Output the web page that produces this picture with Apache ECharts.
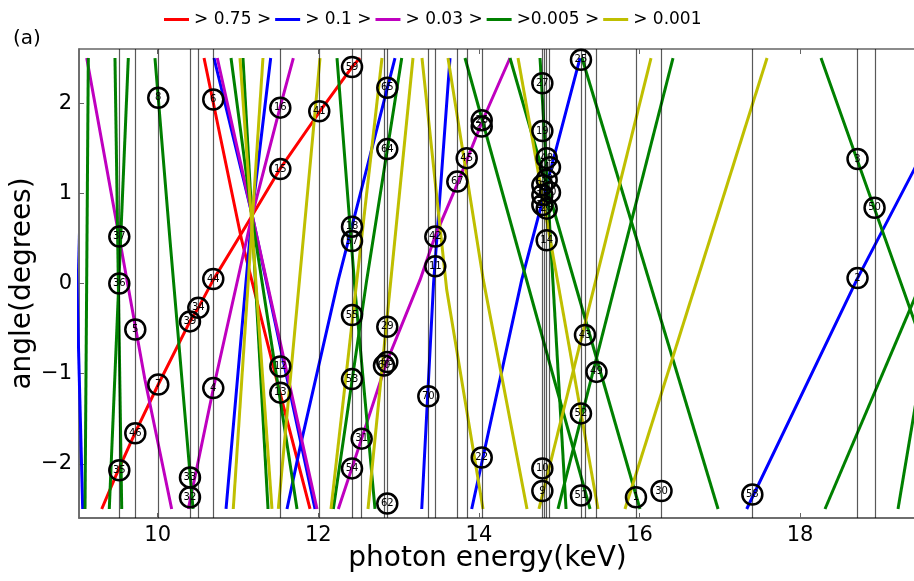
<!DOCTYPE html>
<html>
<head>
<meta charset="utf-8">
<script src="https://cdn.jsdelivr.net/npm/echarts@6/dist/echarts.min.js"></script>
<style>html,body{margin:0;padding:0;background:#fff;}#c{width:914px;height:581px;}</style>
</head>
<body>
<div id="c"></div>
<script>
// ---- data (keV, degrees) ----
const xTicks = [10, 12, 14, 16, 18];
const yTicks = [-2, -1, 0, 1, 2];
const legendNames = ['> 0.75 >', '> 0.1 >', '> 0.03 >', '>0.005 >', '> 0.001'];

const edgeEnergies = [9.522, 9.721, 10.007, 10.402, 10.506, 10.692, 11.527, 12.012, 12.420, 12.540,
  12.818, 12.859, 13.370, 13.457, 13.731, 13.848, 14.035, 14.790, 14.811, 14.844, 14.885,
  15.271, 15.321, 15.464, 15.956, 16.274, 17.405, 18.715, 18.927];

const redLines = [
  [[10.577, 2.5], [11.046, 0.48], [11.482, -1.07], [11.897, -2.5]],
  [[9.303, -2.5], [9.509, -2.07], [9.717, -1.66], [10.007, -1.12], [10.402, -0.42], [10.506, -0.27],
   [10.692, 0.04], [11.046, 0.56], [11.523, 1.27], [12.021, 1.91], [12.420, 2.40], [12.519, 2.5]]
];
const blueLines = [
  [[8.92, 2.5], [9.066, -2.5]],
  [[10.701, 2.5], [11.171, 0.78], [11.959, -2.5]],
  [[10.851, -2.5], [11.171, 0.74], [11.407, 2.5]],
  [[11.610, -2.5], [11.772, -1.82], [12.249, 0.04], [12.955, 2.5]],
  [[13.288, -2.5], [13.435, 0.0], [13.640, 2.5]],
  [[13.910, -2.5], [14.533, 0.04], [15.259, 2.5]],
  [[17.335, -2.5], [18.705, 0.04], [19.418, 1.26], [20.15, 2.5]]
];
const magentaLines = [
  [[9.116, 2.5], [9.509, 0.57], [9.842, -1.07], [10.174, -2.5]],
  [[10.381, -2.5], [10.692, -1.17], [11.171, 0.74], [11.523, 1.95], [11.689, 2.5]],
  [[10.742, 2.5], [11.171, 0.78], [11.984, -2.5]],
  [[12.249, -2.5], [12.540, -1.72], [12.852, -0.87], [13.267, 0.04], [13.453, 0.52], [13.743, 1.13],
   [14.047, 1.81], [14.387, 2.5]]
];
const greenLines = [
  [[9.136, 2.5], [9.095, -2.5]],
  [[9.468, 2.5], [9.552, -2.5]],
  [[9.634, 2.5], [9.397, -2.5]],
  [[9.966, 2.5], [10.153, 0.48], [10.440, -2.5]],
  [[10.913, 2.5], [11.171, 0.76], [11.735, -2.5]],
  [[11.062, 2.5], [11.374, -2.5]],
  [[12.233, 2.5], [12.457, -0.07], [12.706, -2.5]],
  [[12.187, -2.5], [12.603, 0.04], [13.039, 2.5]],
  [[13.827, 2.5], [15.384, -2.5]],
  [[14.387, 2.5], [16.006, -2.5]],
  [[14.761, 2.5], [15.085, -2.5]],
  [[14.985, -2.5], [16.417, 2.5]],
  [[15.284, 2.5], [16.978, -2.5]],
  [[18.260, 2.5], [19.285, -0.07], [20.25, -2.5]],
  [[18.310, -2.5], [20.70, 2.5]],
  [[19.219, -2.5], [20.16, 2.5]]
];
const yellowLines = [
  [[11.025, 2.5], [11.423, -2.5]],
  [[10.941, -2.5], [11.311, 2.5]],
  [[11.502, -2.5], [12.021, 2.5]],
  [[12.158, -2.5], [12.793, 2.5]],
  [[12.619, -2.5], [13.179, 2.5]],
  [[13.291, 2.5], [13.599, -0.07], [14.051, -2.5]],
  [[13.615, 2.5], [14.055, 0.04], [14.599, -2.5]],
  [[14.487, 2.5], [15.483, -2.5]],
  [[14.748, -2.5], [16.143, 2.5]],
  [[15.819, -2.5], [17.588, 2.5]]
];

// circled crossings: [energy, angle, label]
const markers = [
  [9.522, 0.52, '37'], [9.522, 0.0, '36'], [9.721, -0.51, '5'], [9.522, -2.07, '35'], [9.721, -1.66, '46'],
  [10.007, 2.06, '8'], [10.007, -1.12, '7'], [10.402, -0.42, '39'], [10.506, -0.27, '34'],
  [10.692, 2.04, '6'], [10.692, 0.05, '44'], [10.692, -1.16, '4'], [10.402, -2.15, '33'], [10.402, -2.37, '32'],
  [11.527, 1.95, '16'], [11.527, 1.27, '15'], [11.527, -0.92, '12'], [11.527, -1.21, '13'],
  [12.012, 1.91, '41'], [12.420, 2.40, '59'], [12.420, 0.63, '18'], [12.420, 0.47, '57'],
  [12.420, -0.35, '55'], [12.420, -1.06, '53'], [12.420, -2.05, '54'], [12.540, -1.72, '31'],
  [12.818, -0.91, '60'], [12.859, -0.87, '63'], [12.859, -0.48, '29'], [12.859, 1.49, '64'],
  [12.859, 2.17, '65'], [12.859, -2.44, '62'], [13.370, -1.25, '70'], [13.457, 0.52, '42'],
  [13.457, 0.19, '11'], [13.731, 1.13, '67'], [13.848, 1.39, '45'], [14.035, 1.81, '26'],
  [14.035, 1.74, '21'], [14.035, -1.93, '22'], [14.790, 2.22, '27'], [14.790, 1.69, '19'],
  [14.844, 1.39, '48'], [14.885, 1.29, '47'], [14.844, 1.15, '39'], [14.790, 1.09, '20'],
  [14.885, 1.01, '40'], [14.790, 0.98, '23'], [14.790, 0.87, '24'], [14.844, 0.83, '28'],
  [14.844, 0.48, '14'], [14.790, -2.05, '10'], [14.790, -2.30, '9'], [15.271, 2.48, '25'],
  [15.321, -0.57, '43'], [15.464, -0.98, '49'], [15.271, -1.44, '52'], [15.271, -2.35, '51'],
  [15.956, -2.37, '1'], [16.274, -2.30, '30'], [17.405, -2.34, '58'], [18.715, 1.38, '3'],
  [18.715, 0.06, '2'], [18.927, 0.84, '50']
];

const groups = [
  { name: legendNames[0], color: '#ff0000', lines: redLines },
  { name: legendNames[1], color: '#0000ff', lines: blueLines },
  { name: legendNames[2], color: '#bf00bf', lines: magentaLines },
  { name: legendNames[3], color: '#008000', lines: greenLines },
  { name: legendNames[4], color: '#bfbf00', lines: yellowLines }
];

const FONT = 'DejaVu Sans';
const series = [];
// vertical lines
series.push({
  type: 'line', name: 'edges', data: [], silent: true, z: 1,
  markLine: {
    silent: true, symbol: ['none', 'none'], label: { show: false },
    lineStyle: { color: '#000', opacity: 0.65, width: 1.2, type: 'solid' },
    emphasis: { disabled: true },
    data: edgeEnergies.map(e => ({ xAxis: e }))
  }
});
groups.forEach(g => {
  g.lines.forEach(pts => {
    series.push({
      type: 'line', name: g.name, data: pts, showSymbol: false, symbol: 'none',
      color: g.color, lineStyle: { color: g.color, width: 3 }, clip: true, z: 2,
      silent: true, animation: false
    });
  });
});
series.push({
  type: 'scatter', name: 'markers', data: markers, symbol: 'circle', symbolSize: 20, z: 5,
  itemStyle: { color: 'rgba(255,255,255,0)', borderColor: '#000', borderWidth: 2.5, opacity: 1 },
  label: { show: true, position: 'inside', formatter: p => p.value[2], fontSize: 10, color: '#000', fontFamily: FONT },
  silent: true, animation: false
});

const fmt = v => (v < 0 ? '\u2212' + Math.abs(v) : String(v));
const chart = echarts.init(document.getElementById('c'), null, { renderer: 'canvas' });
chart.setOption({
  animation: false,
  backgroundColor: '#fff',
  title: { text: '(a)', left: 8, top: 24, textStyle: { fontSize: 20, fontWeight: 'normal', color: '#000', fontFamily: FONT } },
  legend: {
    data: legendNames, top: 6, left: 159, icon: 'rect', itemWidth: 25, itemHeight: 3, itemGap: 4,
    textStyle: { fontSize: 17, color: '#000', fontFamily: FONT }
  },
  grid: { left: 79, right: -2, top: 49, bottom: 63, show: true, borderColor: '#666', borderWidth: 1.5,
    containLabel: false, outerBoundsMode: 'none' },
  xAxis: [{
    type: 'value', min: 9.02, max: 19.443,
    name: 'photon energy(keV)', nameLocation: 'middle', nameGap: 27, nameMoveOverlap: false,
    nameTextStyle: { fontSize: 28, color: '#000', fontFamily: FONT, padding: [0, 20, 0, 0] },
    axisLine: { show: true, onZero: false, lineStyle: { color: '#666', width: 1.5 } },
    axisTick: { show: true, inside: true, length: 5, customValues: xTicks, lineStyle: { color: '#666' } },
    axisLabel: { customValues: xTicks, fontSize: 21, color: '#000', fontFamily: FONT, margin: 7, formatter: fmt },
    splitLine: { show: false }
  }, {
    type: 'value', position: 'top', min: 9.02, max: 19.443,
    axisLine: { show: false, onZero: false },
    axisTick: { show: true, inside: true, length: 5, customValues: xTicks, lineStyle: { color: '#666' } },
    axisLabel: { show: false },
    splitLine: { show: false }
  }],
  yAxis: {
    type: 'value', min: -2.6, max: 2.6,
    name: 'angle(degrees)', nameLocation: 'middle', nameGap: 42, nameMoveOverlap: false,
    nameTextStyle: { fontSize: 28, color: '#000', fontFamily: FONT },
    axisLine: { show: true, onZero: false, lineStyle: { color: '#666', width: 1.5 } },
    axisTick: { show: true, inside: true, length: 5, customValues: yTicks, lineStyle: { color: '#666' } },
    axisLabel: { customValues: yTicks, fontSize: 21, color: '#000', fontFamily: FONT, margin: 7, formatter: fmt },
    splitLine: { show: false }
  },
  series: series
});
</script>
</body>
</html>
